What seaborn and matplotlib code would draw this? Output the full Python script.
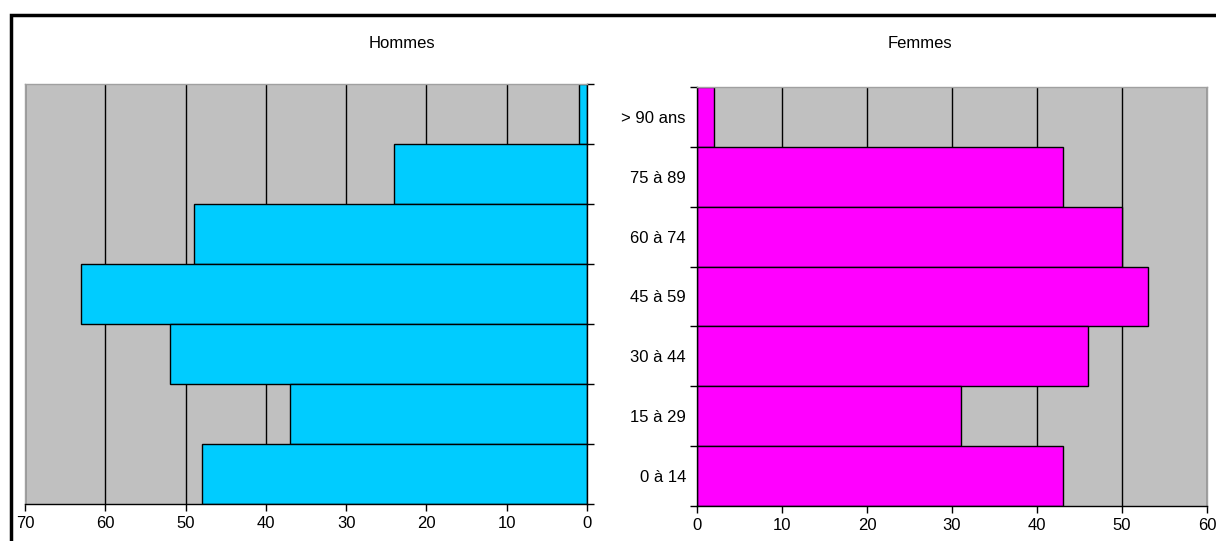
import matplotlib
matplotlib.use("Agg")
import matplotlib.pyplot as plt
import seaborn as sns
import pandas as pd
from matplotlib.patches import Rectangle

# data
age_groups = ["> 90 ans", "75 à 89", "60 à 74", "45 à 59", "30 à 44", "15 à 29", "0 à 14"]
hommes = [1, 24, 49, 63, 52, 37, 48]
femmes = [2, 43, 50, 53, 46, 31, 43]

df = pd.DataFrame({"age": age_groups, "hommes": hommes, "femmes": femmes})

sns.set_style("white")
plt.rcParams["font.family"] = ["Liberation Sans", "DejaVu Sans"]
plt.rcParams["text.color"] = "black"
plt.rcParams["xtick.color"] = "black"
plt.rcParams["ytick.color"] = "black"

LABEL_SIZE = 12

fig = plt.figure(figsize=(12.16, 5.41), dpi=100)
ax_h = fig.add_axes([25 / 1216, 1 - 504 / 541, 562 / 1216, 420 / 541])
ax_f = fig.add_axes([697 / 1216, 1 - 506 / 541, 510 / 1216, 419 / 541])

# outer frame like the spreadsheet chart area
fig.patches.append(Rectangle((11 / 1216, -0.1), 1.2, 1 - 15 / 541 + 0.1,
                             transform=fig.transFigure, fill=False,
                             edgecolor="black", linewidth=2.5, clip_on=False))


def style_panel(ax, xmax, step, side):
    ax.set_facecolor("#c0c0c0")
    ax.set_axisbelow(True)
    ax.xaxis.grid(True, color="black", linewidth=1)
    ax.yaxis.grid(False)
    ax.set_xlim(0, xmax)
    ax.set_xticks(range(0, xmax + 1, step))
    ax.set_ylim(len(age_groups) - 0.5, -0.5)
    ax.set_xlabel("")
    ax.set_ylabel("")
    ax.tick_params(axis="x", which="both", direction="out", length=5, width=1,
                   color="black", labelcolor="black", labelsize=LABEL_SIZE, pad=4, bottom=True)
    ax.set_yticks([i - 0.5 for i in range(len(age_groups) + 1)], minor=True)
    ax.tick_params(axis="y", which="major", length=0, labelsize=LABEL_SIZE,
                   labelcolor="black", pad=8)
    ax.tick_params(axis="y", which="minor", direction="out", length=5, width=1, color="black")
    for s in ax.spines.values():
        s.set_color("#a0a0a0")
        s.set_linewidth(1)
    ax.spines["bottom"].set_color("black")
    ax.spines[side].set_color("black")


sns.barplot(data=df, x="hommes", y="age", ax=ax_h, color="#00ccff",
            saturation=1, width=1, edgecolor="black", linewidth=1)
style_panel(ax_h, 70, 10, "right")
ax_h.invert_xaxis()
ax_h.yaxis.tick_right()
ax_h.tick_params(axis="y", which="major", labelright=False)
ax_h.tick_params(axis="y", which="minor", right=True, left=False)

sns.barplot(data=df, x="femmes", y="age", ax=ax_f, color="#ff00ff",
            saturation=1, width=1, edgecolor="black", linewidth=1)
style_panel(ax_f, 60, 10, "left")
ax_f.tick_params(axis="y", which="minor", left=True)

fig.text(402 / 1216, 1 - 44 / 541, "Hommes", ha="center", va="center", fontsize=LABEL_SIZE)
fig.text(920 / 1216, 1 - 44 / 541, "Femmes", ha="center", va="center", fontsize=LABEL_SIZE)

fig.savefig("out.png", dpi=100)
